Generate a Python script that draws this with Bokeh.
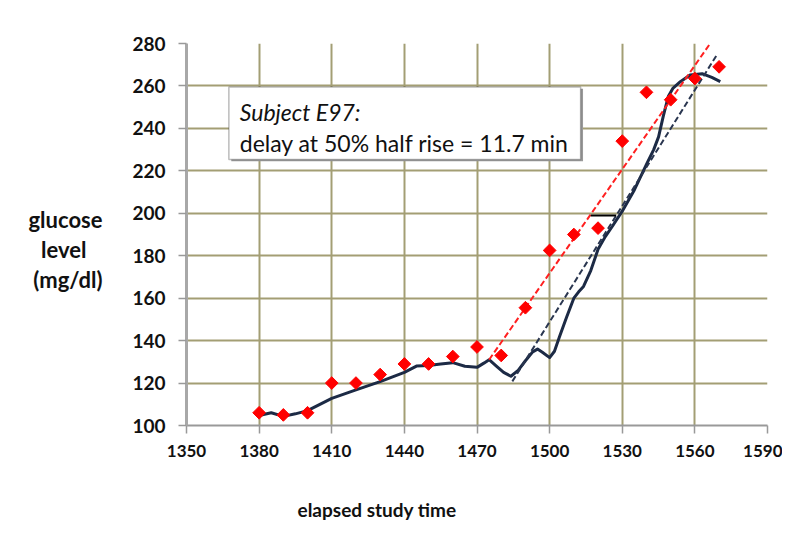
import math
from bokeh.plotting import figure
from bokeh.models import Label, BoxAnnotation, FixedTicker, Range1d, Title
from bokeh.embed import file_html
from bokeh.resources import INLINE

# ---- data ----
meas_t = [1380, 1390, 1400, 1410, 1420, 1430, 1440, 1450, 1460, 1470,
          1480, 1490, 1500, 1510, 1520, 1530, 1540, 1550, 1560, 1570]
meas_g = [106, 105, 106, 120, 120, 124, 129, 129, 132.5, 137,
          133, 155.5, 182.5, 190, 193, 234, 257, 253.5, 263.5, 269]

cgm_t = [1380, 1385, 1390, 1395, 1400, 1410, 1420, 1430, 1440, 1445, 1450,
         1455, 1460, 1465, 1470, 1473, 1475, 1478, 1481, 1484, 1487, 1490,
         1493, 1495, 1497, 1500, 1502, 1504, 1507, 1510, 1512, 1514, 1517,
         1520, 1523, 1526, 1530, 1535, 1540, 1543, 1545, 1547, 1549, 1551,
         1554, 1558, 1563, 1567, 1570.5]
cgm_g = [104.7, 106, 104.3, 105.5, 107, 112.8, 116.8, 120.7, 125, 128, 128.3,
         129, 129.6, 127.9, 127.4, 129.5, 131, 128, 125, 123.2, 126, 130.5,
         134.7, 136, 134.5, 132, 135, 141.6, 151, 160, 163, 165.5, 173,
         183, 189, 194, 201, 211, 223, 230, 236, 246, 255, 259,
         262, 265.2, 265.8, 264, 262]

fit_meas_t = [1475, 1570]
fit_meas_g = [131, 286]
fit_cgm_t = [1484.6, 1569]
fit_cgm_g = [120.8, 274.5]
delay_t = [1517, 1527.5]
delay_g = [199, 199]

x_ticks = [1350, 1380, 1410, 1440, 1470, 1500, 1530, 1560, 1590]
y_ticks = [100, 120, 140, 160, 180, 200, 220, 240, 260, 280]

note_title = "Subject E97:"
note_text = "delay at 50% half rise = 11.7 min"
y_label_lines = ["glucose", "level", "(mg/dl)"]
x_label = "elapsed study time"

GRID = "#a39e74"
NB = "\u00a0"

p = figure(width=782, height=540, output_backend="svg", toolbar_location=None,
           x_range=Range1d(1350, 1590), y_range=Range1d(100, 280),
           min_border_left=186, min_border_right=15, min_border_top=43,
           min_border_bottom=115, background_fill_color="white",
           border_fill_color="white", outline_line_color=None)

p.xaxis.ticker = FixedTicker(ticks=x_ticks)
p.yaxis.ticker = FixedTicker(ticks=y_ticks)
p.xgrid.ticker = FixedTicker(ticks=x_ticks)
p.ygrid.ticker = FixedTicker(ticks=y_ticks)
p.grid.grid_line_color = GRID
p.grid.grid_line_width = 2

for ax in (p.xaxis, p.yaxis):
    ax.major_tick_in = 0
    ax.major_tick_out = 8
    ax.minor_tick_line_color = None
    ax.major_tick_line_color = "#999999"
    ax.major_tick_line_width = 1.5
    ax.major_label_text_font_style = "bold"
    ax.major_label_text_color = "#111111"
p.xaxis.axis_line_color = "#999999"
p.xaxis.axis_line_width = 2
p.yaxis.axis_line_color = "#a8a8a8"
p.yaxis.axis_line_width = 3
p.xaxis.major_label_text_font = "Lato"
p.xaxis.major_label_text_font_size = "17px"
p.xaxis.major_label_standoff = 11
p.yaxis.major_label_text_font = "Lato"
p.yaxis.major_label_text_font_size = "19px"
p.yaxis.major_label_standoff = 13

# multi-line horizontal y label, lines visually centred
padded = [NB, y_label_lines[0], y_label_lines[1] + NB * 3, y_label_lines[2]]
p.yaxis.axis_label = "\n".join(padded)
p.yaxis.axis_label_orientation = "horizontal"
p.yaxis.axis_label_text_font = "Lato"
p.yaxis.axis_label_text_font_style = "bold"
p.yaxis.axis_label_text_font_size = "22px"
p.yaxis.axis_label_text_align = "center"
p.yaxis.axis_label_text_line_height = 1.12
p.yaxis.axis_label_text_color = "#111111"
p.yaxis.axis_label_standoff = 27

# spacer between the x axis and its label, then the label itself
p.add_layout(Title(text=NB, standoff=33, text_font_size="1px"), "below")
p.add_layout(Title(text=x_label, align="left", offset=111, standoff=0,
                   text_font="Lato", text_font_style="bold",
                   text_font_size="19px", text_color="#111111"), "below")

# lines
p.line(cgm_t, cgm_g, line_color="#1c2a45", line_width=3, line_join="round")
p.line(fit_meas_t, fit_meas_g, line_color="#ff2020", line_width=2, line_dash="6 3")
p.line(fit_cgm_t, fit_cgm_g, line_color="#2a3650", line_width=2, line_dash="6 3")
p.line(delay_t, delay_g, line_color="black", line_width=2)
p.scatter(meas_t, meas_g, marker="square", angle=math.pi / 4, size=9,
          fill_color="#ff0000", line_color="#ff0000")

# annotation box
p.add_layout(BoxAnnotation(left=1368.5, right=1513.8, bottom=224.5, top=258.7,
                           fill_color="#9a9a9a", fill_alpha=1, line_color=None,
                           level="overlay"))
p.add_layout(BoxAnnotation(left=1367.5, right=1512.8, bottom=225.3, top=259.5,
                           fill_color="white", fill_alpha=1, line_color="#222222",
                           line_width=1.5, level="overlay"))
p.add_layout(Label(x=1372, y=247.5, text=note_title, text_font="Lato",
                   text_font_style="italic", text_font_size="23px",
                   text_baseline="alphabetic", text_color="#111111", level="overlay"))
p.add_layout(Label(x=1372, y=233.2, text=note_text, text_font="Lato",
                   text_font_size="23px", text_baseline="alphabetic",
                   text_color="#111111", level="overlay"))

open("out.html", "w").write(file_html(p, INLINE))
